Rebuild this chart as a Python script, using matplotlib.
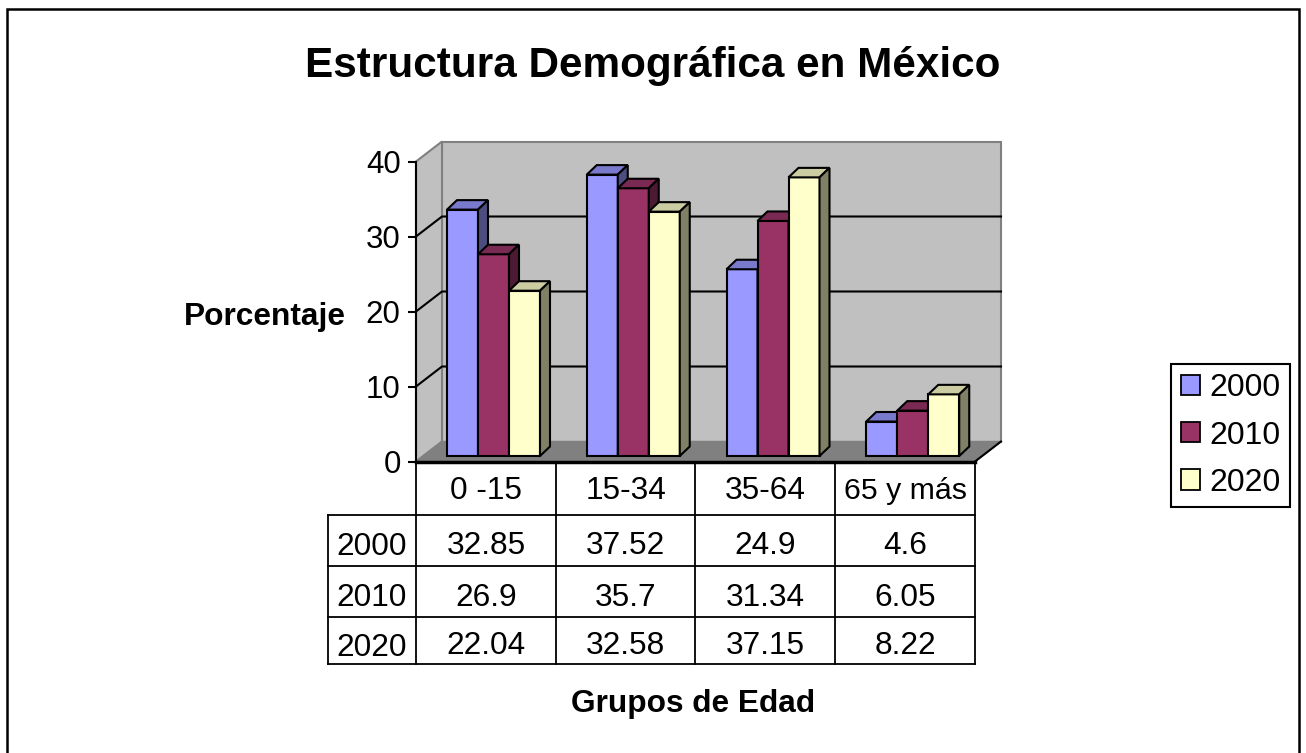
import matplotlib
matplotlib.use("Agg")
import matplotlib.pyplot as plt
from matplotlib.patches import Patch, Polygon, Rectangle

plt.rcParams["font.family"] = ["Liberation Sans", "DejaVu Sans"]

GROUPS = ["0 -15", "15-34", "35-64", "65 y más"]
YEARS = ["2000", "2010", "2020"]
VALUES_2000 = [32.85, 37.52, 24.9, 4.6]
VALUES_2010 = [26.9, 35.7, 31.34, 6.05]
VALUES_2020 = [22.04, 32.58, 37.15, 8.22]
TABLE_LABELS = [
    ["32.85", "37.52", "24.9", "4.6"],
    ["26.9", "35.7", "31.34", "6.05"],
    ["22.04", "32.58", "37.15", "8.22"],
]
Y_TICKS = [0, 10, 20, 30, 40]

FRONT = ["#9999ff", "#993366", "#ffffcc"]
TOP = ["#7a7acc", "#7a2952", "#cccca3"]
SIDE = ["#4d4d80", "#4d1a33", "#808066"]

W, H = 1306, 753
fig = plt.figure(figsize=(W / 100, H / 100), dpi=100, facecolor="white")

# overlay in pixel coordinates for frame and loose text
over = fig.add_axes([0, 0, 1, 1], zorder=0)
over.set_xlim(0, W)
over.set_ylim(H, 0)
over.axis("off")
# the frame has no bottom edge, it runs off the image
over.plot([7, 7, 1299, 1299], [H, 9, 9, H], color="black", linewidth=1.8, solid_joinstyle="miter")
over.text(653, 66, "Estructura Demográfica en México", ha="center", va="center", fontsize=30.4, fontweight="bold")
over.text(265, 317, "Porcentaje", ha="center", va="center", fontsize=22.8, fontweight="bold")
over.text(693, 704, "Grupos de Edad", ha="center", va="center", fontsize=22.8, fontweight="bold")

# main axes: front plane of the 3D box
left, right, y0, y40 = 416, 975, 461.5, 161.5
ax = fig.add_axes([left / W, 1 - y0 / H, (right - left) / W, (y0 - y40) / H], zorder=1)
ax.set_xlim(0, 4)
ax.set_ylim(0, 40)
ax.patch.set_visible(False)
for s in ax.spines.values():
    s.set_visible(False)
ax.set_xticks([])
ax.set_yticks(Y_TICKS)
ax.tick_params(axis="y", length=6, width=1.5, labelsize=22.5, pad=5)
ux = (right - left) / 4
uy = (y0 - y40) / 40

# walls and floor
wx, wy = 26 / ux, 20 / uy
ax.add_patch(Rectangle((wx, wy), 4, 40, facecolor="#c0c0c0", edgecolor="#808080", linewidth=1.5, clip_on=False))
ax.add_patch(Polygon([(0, 0), (wx, wy), (wx, 40 + wy), (0, 40)], facecolor="#c0c0c0", edgecolor="#808080", linewidth=1.5, clip_on=False))
ax.add_patch(Polygon([(0, 0), (wx, wy), (4 + wx, wy), (4, 0)], facecolor="#808080", edgecolor="#808080", linewidth=1, clip_on=False))
for t in Y_TICKS[1:-1]:
    ax.plot([0, wx, 4 + wx], [t, t + wy, t + wy], color="black", linewidth=1.5, clip_on=False)
ax.plot([0, 0], [0, 40], color="black", linewidth=1.5, clip_on=False)
ax.plot([0, 4], [0, 0], color="black", linewidth=2.5, clip_on=False)
ax.plot([4, 4 + wx], [0, wy], color="black", linewidth=1.5, clip_on=False)

# bars
bw = 31 / ux
bx, by = 31 / ux, 5.5 / uy
dx, dy = 10 / ux, 9.5 / uy
SERIES = [VALUES_2000, VALUES_2010, VALUES_2020]
for k, values in enumerate(SERIES):
    xs = [i + bx + k * bw for i in range(len(GROUPS))]
    ax.bar(xs, values, bw, bottom=by, align="edge", color=FRONT[k], edgecolor="black", linewidth=1.5, clip_on=False, zorder=3 + k)
    for x, v in zip(xs, values):
        top = by + v
        ax.add_patch(Polygon([(x, top), (x + dx, top + dy), (x + bw + dx, top + dy), (x + bw, top)], facecolor=TOP[k], edgecolor="black", linewidth=1.5, clip_on=False, zorder=3 + k))
        ax.add_patch(Polygon([(x + bw, by), (x + bw + dx, by + dy), (x + bw + dx, top + dy), (x + bw, top)], facecolor=SIDE[k], edgecolor="black", linewidth=1.5, clip_on=False, zorder=3 + k))

# data table under the axis
col_x = [416, 556, 695, 835, 975]
row_y = [461.5, 514.5, 566, 617, 664]
head_x = 328
for x in col_x:
    over.plot([x, x], [row_y[0], row_y[-1]], color="black", linewidth=1.3)
over.plot([head_x, head_x], [row_y[1], row_y[-1]], color="black", linewidth=1.3)
for y in row_y[1:]:
    over.plot([head_x, col_x[-1]], [y, y], color="black", linewidth=1.3)
for c, name in enumerate(GROUPS):
    over.text((col_x[c] + col_x[c + 1]) / 2 + (1 if c == 3 else 0), (row_y[0] + row_y[1]) / 2 + 3, name, ha="center", va="center", fontsize=21.8 if c == 3 else 22.8)
for r, year in enumerate(YEARS):
    ym = (row_y[r + 1] + row_y[r + 2]) / 2
    over.text((head_x + col_x[0]) / 2, ym + 7, year, ha="center", va="center", fontsize=22.8)
    for c, label in enumerate(TABLE_LABELS[r]):
        over.text((col_x[c] + col_x[c + 1]) / 2, ym + 6, label, ha="center", va="center", fontsize=22.8)

# legend
handles = [Patch(facecolor=FRONT[k], edgecolor="black", linewidth=1.3, label=YEARS[k]) for k in range(3)]
leg = fig.legend(
    handles=handles, loc="center", bbox_to_anchor=(1230.5 / W, 1 - 435.5 / H), fontsize=23,
    frameon=True, fancybox=False, edgecolor="black", framealpha=1, handlelength=0.6, handleheight=0.6,
    handletextpad=0.3, labelspacing=0.54, borderpad=0.3, borderaxespad=0,
)
leg.get_frame().set_linewidth(1.5)

fig.savefig("out.png", dpi=100, facecolor="white")
